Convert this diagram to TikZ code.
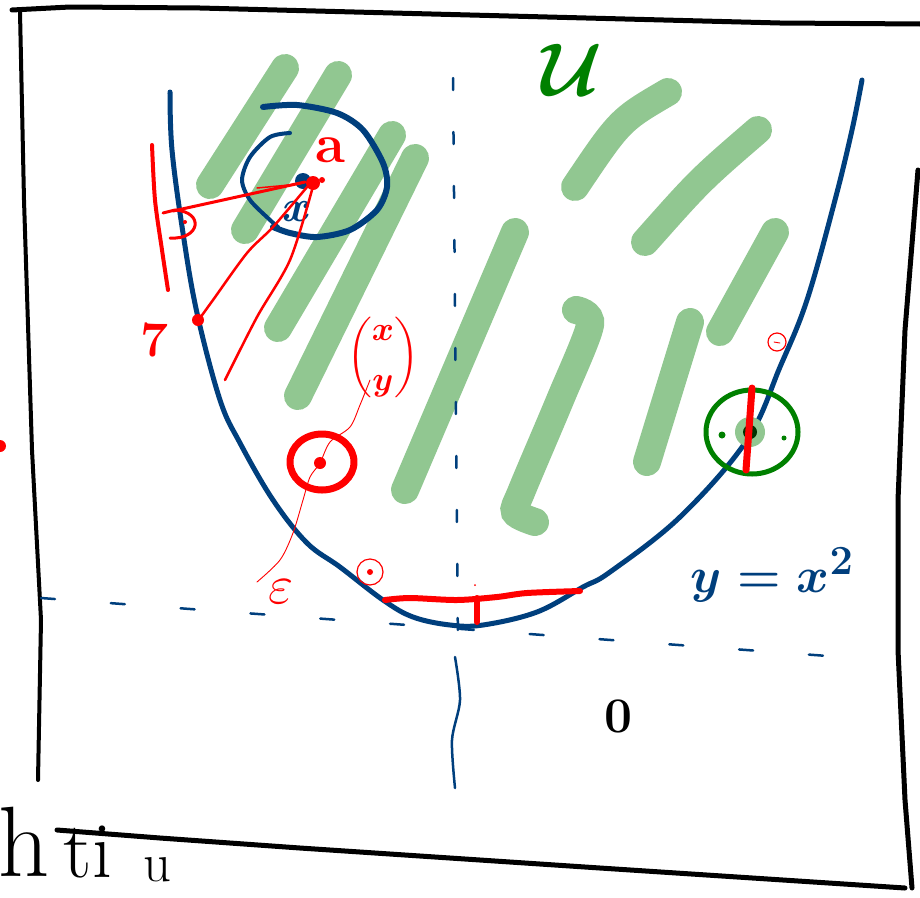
\documentclass[tikz,border=0pt]{standalone}
\usepackage{amsmath,amssymb}
\usetikzlibrary{calc}
\definecolor{inknavy}{RGB}{0,63,125}
\definecolor{inkgreen}{RGB}{0,128,0}
\definecolor{inkred}{RGB}{255,0,0}
\definecolor{setfill}{RGB}{145,199,145}
\colorlet{inkblack}{black}
\colorlet{ballcore}{inkgreen!40!black}

\begin{document}
\begin{tikzpicture}[x=1pt,y=-1pt,every node/.style={inner sep=0pt},
    frameline/.style={line width=5pt,inkblack,line cap=round,line join=round},
    setstroke/.style={line width=28pt,setfill,line cap=round},
    graphline/.style={line width=5pt,inknavy,line cap=round,line join=round},
    axisline/.style={line width=2.5pt,inknavy,line cap=round},
    redpen/.style={line width=4pt,inkred,line cap=round,line join=round},
    hairline/.style={line width=.9pt,inkred,line cap=round}]
  \useasboundingbox (0,0) rectangle (920,897);
  \fill[white] (0,0) rectangle (920,897);
  \draw[frameline] (12,10)--(70,7)--(200,8)--(470,15)--(780,23)--(920,24);
  \draw[frameline,line width=4pt] (20,12)--(24,200)--(32,450)--(41,620)--(38,780);
  \draw[frameline] (918,170)--(905,330)--(898,500)--(898,650)--(905,800)--(912,888);
  \draw[frameline] (57,830)--(160,838)--(300,848)--(600,868)--(905,888);
  \draw[setstroke] (285,68)--(210,185);
  \draw[setstroke] (338,75)--(245,230);
  \draw[setstroke] (392,135)--(278,328);
  \draw[setstroke] (415,158)--(298,396);
  \draw[setstroke] (515,232)--(405,490);
  \draw[setstroke] plot[smooth] coordinates {(576,310) (590,325) (560,400) (522,490) (515,512) (535,522)};
  \draw[setstroke] (690,322)--(647,462);
  \draw[setstroke] (668,92) .. controls (620,120) .. (575,187);
  \draw[setstroke] (758,130) .. controls (700,180) .. (645,242);
  \draw[setstroke] (775,232)--(720,332);
  \draw[axisline,dash pattern=on 14pt off 56pt] (41,598)--(855,658);
  \draw[axisline,dash pattern=on 12pt off 42pt] (453,78)--(458,650);
  \draw[axisline] plot[smooth] coordinates {(455,657) (460,700) (452,740) (455,788)};
  \draw[graphline] plot[smooth,tension=.6] coordinates {(170,92) (172,150) (183,233) (197,313) (220,400) (240,443) (273,500) (307,543) (340,567) (383,600) (413,617) (450,625) (483,625) (537,612) (583,587) (610,572) (680,517) (747,440) (780,367) (807,300) (835,200) (852,130) (862,80)};
  \draw[graphline,line width=6pt] plot[smooth] coordinates {(263,107) (297,105) (337,113) (363,130) (383,163) (387,187) (377,210) (350,230) (317,237) (290,233) (273,227)};
  \draw[graphline,line width=4pt] plot[smooth] coordinates {(290,133) (270,137) (250,157) (242,180) (250,200) (270,220) (278,227)};
  \fill[inknavy] (303,181) circle (8pt);
  \node[text=inknavy,font=\Huge\boldmath,scale=1.8] (xlabel) at (297,212) {$x$};
  \draw[redpen] plot[smooth] coordinates {(152,145) (155,200) (162,250) (168,290)};
  \draw[redpen,line width=3pt] (163,213)--(175,210) .. controls (205,212) and (200,240) .. (170,238);
  \fill[inkred] (185,222) circle (2pt);
  \draw[redpen,line width=3pt] (173,211)--(305,182);
  \draw[hairline,line width=1.5pt] (257,188)--(300,184);
  \draw[redpen,line width=2.5pt] plot[smooth] coordinates {(307,187) (273,227) (247,253) (213,300) (200,318)};
  \draw[redpen,line width=2.5pt] plot[smooth] coordinates {(312,190) (290,260) (257,317) (225,380)};
  \fill[inkred] (198,320) circle (6pt);
  \fill[inkred] (313,183) circle (7pt);
  \fill[inkred] (322,180) circle (3pt);
  \node[text=inkred,font=\Huge\bfseries,scale=2.2] (alabel) at (330,150) {a};
  \node[text=inkred,font=\Huge\bfseries,scale=2] (plabel) at (155,340) {7};
  \node[text=inkred,font=\Huge\boldmath,scale=1.35] (veclabel) at (383,357) {$\dbinom{x}{y}$};
  \draw[redpen,line width=7pt] (322,462) ellipse (32pt and 28pt);
  \fill[inkred] (320,463) circle (6pt);
  \draw[hairline] plot[smooth] coordinates {(370,380) (360,405) (350,427) (330,442) (320,463) (310,477) (303,500) (293,533) (280,560) (257,582)};
  \node[text=inkred,font=\Huge,scale=2.2] (epslabel) at (281,592) {$\varepsilon$};
  \draw[hairline,line width=1.2pt] (370,572) circle (13pt);
  \fill[inkred] (370,572) circle (3pt);
  \draw[hairline,line width=1.2pt] (777,342) circle (9pt);
  \draw[hairline] (774,342)--(780,343);
  \fill[inkred] (475,585) circle (1pt);
  \draw[redpen,line width=6pt] plot[smooth] coordinates {(385,600) (410,598) (457,600) (497,597) (527,593) (580,591)};
  \draw[redpen,line width=6pt] (477,598)--(477,622);
  \fill[setfill] (750,432) circle (15pt);
  \fill[ballcore] (750,432) circle (7pt);
  \draw[inkgreen,line width=5pt] (752,432) ellipse (46pt and 42pt);
  \fill[inkgreen] (722,435) circle (3.5pt);
  \fill[inkgreen] (784,438) circle (2.5pt);
  \draw[redpen,line width=7pt] (752,388)--(746,470);
  \fill[inkred] (0,446) circle (6pt);
  \node[text=inknavy,font=\Huge\boldmath,scale=2] (graphlabel) at (772,575) {$y=x^2$};
  \node[text=inkgreen,font=\Huge\boldmath,scale=3] (setlabel) at (572,70) {$\mathcal{U}$};
  \node[font=\Huge\bfseries,scale=2] (zerolabel) at (618,716) {0};
  \node[font=\fontsize{100}{100}\selectfont] (hlabel) at (24,842) {h};
  \node[font=\fontsize{80}{80}\selectfont] (tilabel) at (88,852) {ti};
  \node[font=\Huge,scale=2.2] (ulabel) at (157,870) {u};
\end{tikzpicture}
\end{document}
